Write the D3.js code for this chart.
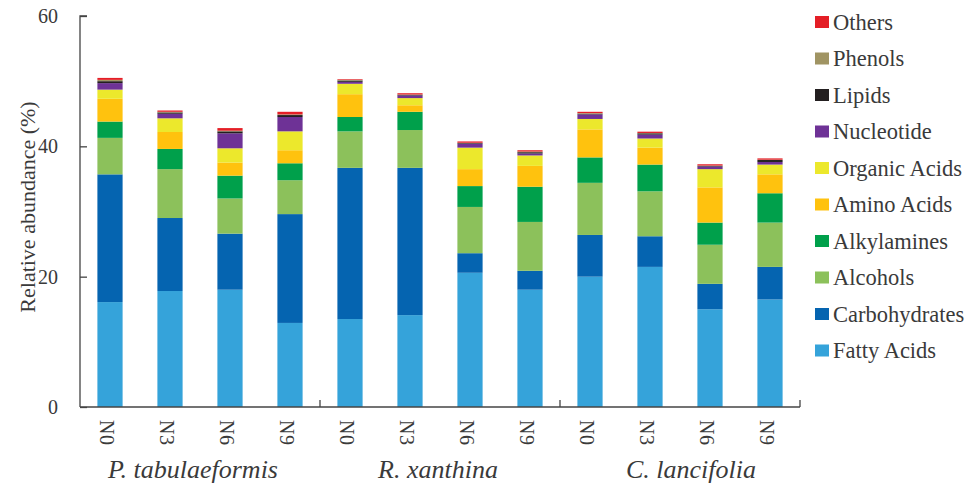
<!DOCTYPE html>
<html>
<head>
<meta charset="utf-8">
<script src="https://cdn.jsdelivr.net/npm/d3@7"></script>
<style>
  html, body { margin: 0; padding: 0; background: #fff; }
  svg { display: block; }
</style>
</head>
<body>
<svg id="chart" width="967" height="484"></svg>
<script>
// Sample groups (species) and nitrogen treatments
const species = ["P. tabulaeformis", "R. xanthina", "C. lancifolia"];
const treatments = ["N0", "N3", "N6", "N9"];

// Metabolite classes, stacked bottom to top
const classes = ["Fatty Acids", "Carbohydrates", "Alcohols", "Alkylamines", "Amino Acids",
                 "Organic Acids", "Nucleotide", "Lipids", "Phenols", "Others"];
const colors = ["#35a3da", "#0564b0", "#8cc15b", "#00a04b", "#ffc20e",
                "#ece82c", "#6e3296", "#231f20", "#a09463", "#e41e26"];

// Relative abundance (%) per class, one value per bar (P.tab N0..N9, R.xan N0..N9, C.lan N0..N9)
const fattyAcids    = [16.1, 17.8, 18.0, 12.9, 13.5, 14.1, 20.6, 18.0, 20.0, 21.5, 15.0, 16.5];
const carbohydrates = [19.6, 11.2,  8.6, 16.7, 23.2, 22.6,  3.0,  2.9,  6.4,  4.7,  3.9,  5.0];
const alcohols      = [ 5.6,  7.5,  5.4,  5.2,  5.6,  5.8,  7.1,  7.5,  8.0,  6.9,  6.0,  6.8];
const alkylamines   = [ 2.5,  3.1,  3.5,  2.6,  2.2,  2.8,  3.2,  5.4,  3.9,  4.1,  3.4,  4.5];
const aminoAcids    = [ 3.5,  2.6,  2.0,  2.0,  3.5,  1.0,  2.6,  3.2,  4.3,  2.6,  5.4,  2.9];
const organicAcids  = [ 1.4,  2.1,  2.2,  2.9,  1.6,  1.1,  3.3,  1.6,  1.6,  1.4,  2.8,  1.5];
const nucleotide    = [ 1.0,  0.7,  2.3,  2.2,  0.3,  0.4,  0.6,  0.3,  0.7,  0.6,  0.4,  0.4];
const lipids        = [ 0.3,  0.2,  0.3,  0.3,  0.2,  0.1,  0.1,  0.2,  0.1,  0.2,  0.1,  0.3];
const phenols       = [ 0.2,  0.1,  0.1,  0.1,  0.1,  0.05, 0.05, 0.1,  0.1,  0.05, 0.05, 0.05];
const others        = [ 0.3,  0.2,  0.4,  0.4,  0.1,  0.2,  0.2,  0.2,  0.2,  0.2,  0.2,  0.2];

const seriesValues = [fattyAcids, carbohydrates, alcohols, alkylamines, aminoAcids,
                      organicAcids, nucleotide, lipids, phenols, others];

const yTicks = [0, 20, 40, 60];

// Build one row per bar
const rows = [];
species.forEach((sp, si) => treatments.forEach((tr, ti) => {
  const i = si * treatments.length + ti;
  const row = { key: sp + "|" + tr, species: sp, treatment: tr };
  classes.forEach((c, ci) => row[c] = seriesValues[ci][i]);
  rows.push(row);
}));

// Layout
const FONT = '"Times New Roman", "Liberation Serif", "DejaVu Serif", serif';
const plotLeft = 80, plotRight = 800, plotTop = 16, plotBottom = 407;
const speciesLabelShift = [-7, -2, 11];   // horizontal nudge of each species caption
const textFill = "#3a3a3a";
const axisColor = "#444";

const svg = d3.select("#chart")
  .attr("font-family", FONT)
  .style("font-family", FONT);

const x = d3.scaleBand()
  .domain(rows.map(d => d.key))
  .range([plotLeft, plotRight])
  .paddingInner(0.58)
  .paddingOuter(0.29);

const y = d3.scaleLinear().domain([0, 60]).range([plotBottom, plotTop]);
const color = d3.scaleOrdinal().domain(classes).range(colors);

const stacked = d3.stack().keys(classes)(rows);

// Bars
svg.append("g")
  .selectAll("g")
  .data(stacked)
  .join("g")
  .attr("fill", d => color(d.key))
  .selectAll("rect")
  .data(d => d)
  .join("rect")
  .attr("x", d => x(d.data.key))
  .attr("width", x.bandwidth())
  .attr("y", d => y(d[1]))
  .attr("height", d => Math.max(0, y(d[0]) - y(d[1])));

// Y axis (ticks point inward)
const yAxis = svg.append("g")
  .attr("transform", `translate(${plotLeft},0)`)
  .call(d3.axisRight(y).tickValues(yTicks).tickSize(7).tickFormat(""));
yAxis.select(".domain").attr("stroke", axisColor).attr("stroke-width", 1.3).attr("d", `M7,${plotTop}H0V${plotBottom}`);
yAxis.selectAll(".tick line").attr("stroke", axisColor).attr("stroke-width", 1.3);

svg.append("g")
  .selectAll("text")
  .data(yTicks)
  .join("text")
  .attr("x", 58)
  .attr("y", d => y(d))
  .attr("dy", "0.35em")
  .attr("text-anchor", "end")
  .attr("fill", textFill)
  .style("font-size", "20px")
  .text(d => d);

// Y title
svg.append("text")
  .attr("transform", `translate(27,207) rotate(-90)`)
  .attr("text-anchor", "middle")
  .attr("dy", "0.35em")
  .attr("fill", textFill)
  .style("font-size", "22px")
  .text("Relative abundance (%)");

// X axis line and group separators
const groupScale = d3.scaleBand().domain(species).range([plotLeft, plotRight]);
svg.append("line")
  .attr("x1", plotLeft).attr("x2", plotRight)
  .attr("y1", plotBottom).attr("y2", plotBottom)
  .attr("stroke", axisColor).attr("stroke-width", 1.3);
svg.append("g")
  .selectAll("line")
  .data(species)
  .join("line")
  .attr("x1", d => groupScale(d) + groupScale.bandwidth())
  .attr("x2", d => groupScale(d) + groupScale.bandwidth())
  .attr("y1", plotBottom).attr("y2", plotBottom - 7)
  .attr("stroke", axisColor).attr("stroke-width", 1.3);

// Treatment labels, rotated
svg.append("g")
  .selectAll("text")
  .data(rows)
  .join("text")
  .attr("transform", d => `translate(${x(d.key) + x.bandwidth() / 2},420) rotate(90)`)
  .attr("dy", "0.5em")
  .attr("fill", textFill)
  .style("font-size", "20px")
  .style("letter-spacing", "0.5px")
  .text(d => d.treatment);

// Species labels
svg.append("g")
  .selectAll("text")
  .data(species)
  .join("text")
  .attr("x", (d, i) => groupScale(d) + groupScale.bandwidth() / 2 + speciesLabelShift[i])
  .attr("y", 478)
  .attr("text-anchor", "middle")
  .attr("fill", textFill)
  .style("font-size", "26px")
  .style("font-style", "italic")
  .text(d => d);

// Legend, top entry = last stacked class
const legend = svg.append("g")
  .selectAll("g")
  .data(classes.slice().reverse())
  .join("g")
  .attr("transform", (d, i) => `translate(815,${22 + i * 36.5})`);
legend.append("rect")
  .attr("x", 0).attr("y", -6)
  .attr("width", 14).attr("height", 12)
  .attr("fill", d => color(d));
legend.append("text")
  .attr("x", 18)
  .attr("dy", "0.35em")
  .attr("fill", textFill)
  .style("font-size", "22.5px")
  .text(d => d);
</script>
</body>
</html>
